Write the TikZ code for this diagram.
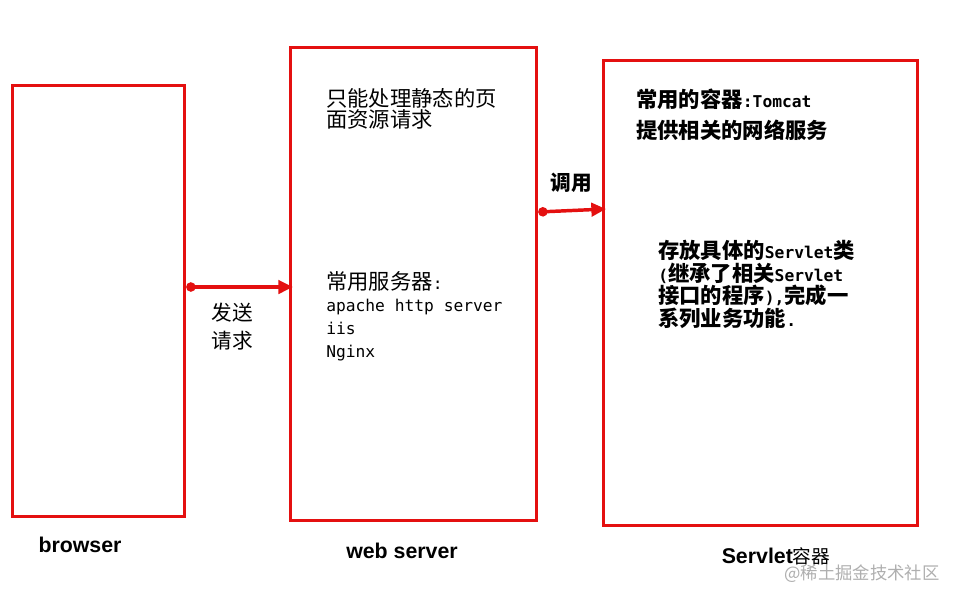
\documentclass[tikz,border=0pt]{standalone}
\usepackage{fontspec}
\usepackage{xcolor}
\setmainfont{Liberation Sans}
\setmonofont{DejaVu Sans Mono}
\newfontfamily\cjk{Noto Sans CJK SC}
\usetikzlibrary{arrows.meta,shadows}
\definecolor{boxred}{RGB}{228,16,16}
\definecolor{markgray}{RGB}{175,175,175}
\newcommand{\zh}[1]{{\cjk\fontsize{16}{17}\selectfont #1}}

\begin{document}
\begin{tikzpicture}[x=0.75pt,y=-0.75pt,
    frame/.style={draw=boxred, line width=2.4pt, fill=white, anchor=north west,
        drop shadow={shadow xshift=1.3pt, shadow yshift=-1.3pt, opacity=0.3}},
    link/.style={draw=boxred, line width=2.6pt,
        {Circle[length=7pt]}-{Triangle[length=11pt,width=10pt]}},
    note/.style={anchor=north west, align=left, inner sep=0pt,
        font=\ttfamily\fontsize{12.2}{17}\selectfont},
    caption/.style={font=\bfseries\fontsize{16}{16}\selectfont}]
    % Page
    \useasboundingbox[fill=white] (0,0) rectangle (959,600);

    % Draw the three boxes
    \node[frame, minimum width=129pt, minimum height=323.25pt] (browser) at (11,84) {};
    \node[frame, minimum width=184.5pt, minimum height=354.75pt] (websrv) at (289,46) {};
    \node[frame, minimum width=235.5pt, minimum height=348.75pt] (servlet) at (602,59) {};

    % Texts in the web server box
    \node[note, font=\cjk\fontsize{16}{14.3}\selectfont] (static) at (326,88)
        {只能处理静态的页\\面资源请求};
    \node[note] (servers) at (326,271)
        {\zh{常用服务器}:\\apache http server\\iis\\Nginx};

    % Texts in the Servlet box
    \node[note, font=\bfseries\ttfamily\fontsize{12.2}{17}\selectfont] (tomcat) at (636,89)
        {\zh{常用的容器}:Tomcat};
    \node[note, font=\bfseries\cjk\fontsize{16}{17}\selectfont] (netsvc) at (636,120)
        {提供相关的网络服务};
    \node[note, font=\bfseries\ttfamily\fontsize{12.2}{17}\selectfont] (store) at (658,240)
        {\zh{存放具体的}Servlet\zh{类}\\(\zh{继承了相关}Servlet\\\zh{接口的程序}),\zh{完成一}\\\zh{系列业务功能}.};

    % Arrows
    \coordinate (y1) at (0,287);
    \coordinate (y2) at (0,212);
    \coordinate (y3) at (0,209);
    \draw[link] (browser.east |- y1) -- ([xshift=3pt]websrv.west |- y1);
    \draw[link] (websrv.east |- y2) -- ([xshift=3pt]servlet.west |- y3);

    % Arrow labels
    \node[align=center, font=\cjk\fontsize{15.5}{21}\selectfont] (send) at (232,327) {发送\\请求};
    \node[fill=white, minimum width=44pt, minimum height=25pt,
        font=\bfseries\cjk\fontsize{15.5}{17}\selectfont] (call) at (571,183) {调用};

    % Captions
    \node[caption] (lbrowser) at (80,545) {browser};
    \node[caption] (lwebsrv) at (402,551) {web server};
    \node[caption] (lservlet) at (776,556) {Servlet{\mdseries\cjk\fontsize{14}{14}\selectfont 容器}};
    \node[text=markgray, font=\cjk\fontsize{13}{14}\selectfont] (mark) at (862,574) {@稀土掘金技术社区};
\end{tikzpicture}
\end{document}
